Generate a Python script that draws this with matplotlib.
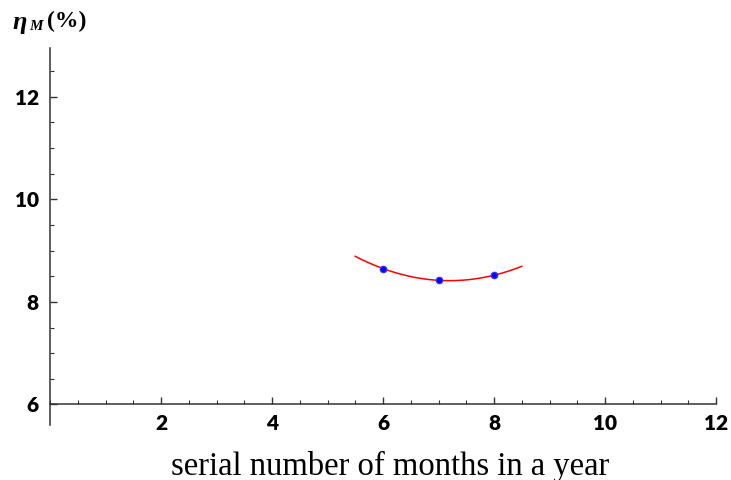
import numpy as np
import matplotlib.pyplot as plt
from matplotlib.ticker import MultipleLocator

months = [6, 7, 8]
eta_m = [8.65, 8.42, 8.52]
fit_from, fit_to = 5.5, 8.5

fig = plt.figure(figsize=(7.31, 4.8), dpi=100)
W, H = 731, 480
ax = fig.add_axes([50 / W, 55 / H, (716 - 50) / W, (432 - 55) / H])
ax.set_xlim(0, 12)
ax.set_ylim(5.6, 12.95)

# quadratic fit through the points
coef = np.polyfit(months, eta_m, 2)
xs = np.linspace(fit_from, fit_to, 200)
ax.plot(xs, np.polyval(coef, xs), color='red', lw=1.1)
ax.plot(months, eta_m, 'o', color='blue', ms=4.5, mec='#3030ff')

for s in ['top', 'right']:
    ax.spines[s].set_visible(False)
ax.spines['left'].set_position(('data', 0))
ax.spines['bottom'].set_position(('data', 6))
for s in ['left', 'bottom']:
    ax.spines[s].set_color('#333333')
    ax.spines[s].set_linewidth(1.1)

ax.xaxis.set_minor_locator(MultipleLocator(0.5))
ax.yaxis.set_minor_locator(MultipleLocator(0.5))
ax.set_xticks([2, 4, 6, 8, 10, 12])
ax.set_yticks([6, 8, 10, 12])
ax.tick_params(which='both', direction='in', color='#333333')
ax.tick_params(which='major', length=5, width=1)
ax.tick_params(which='minor', length=3, width=0.8)
ax.tick_params(axis='x', which='major', pad=7)
ax.tick_params(axis='y', which='major', pad=8)
for lab in ax.get_xticklabels() + ax.get_yticklabels():
    lab.set_fontfamily('Lato')
    lab.set_fontweight('heavy')
    lab.set_fontsize(15)

fig.text(0.5 * (168 + 612) / W, 1 - 466 / H, 'serial number of months in a year',
         family='Liberation Serif', fontsize=23.5, ha='center', va='center')

fig.text(12 / W, 1 - 22 / H, '\u03b7', family='Liberation Serif',
         style='italic', weight='bold', fontsize=19, va='center')
fig.text(29 / W, 1 - 26 / H, 'M', family='Liberation Serif',
         style='italic', weight='bold', fontsize=11, va='center')
fig.text(47 / W, 1 - 21 / H, '(%)', family='Liberation Serif',
         weight='bold', fontsize=17, va='center')

fig.savefig('out.png', dpi=100)
